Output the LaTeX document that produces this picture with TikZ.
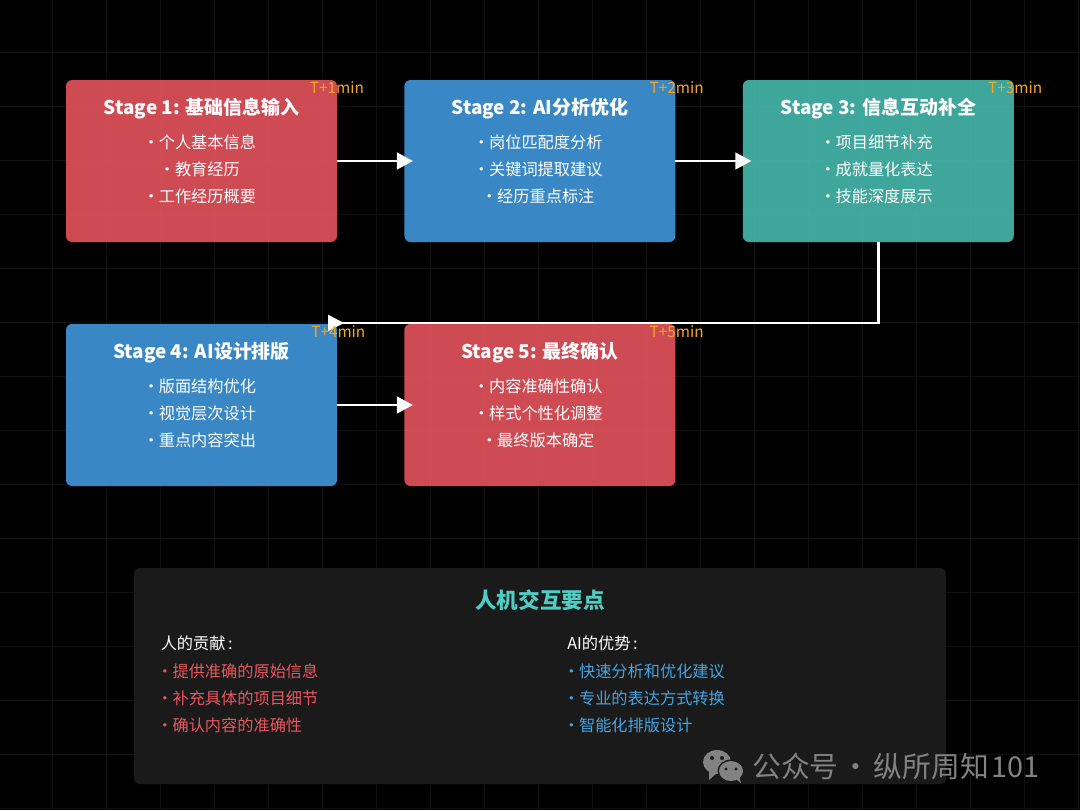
\documentclass[tikz,border=0pt]{standalone}
\usepackage{fontspec}
\setmainfont{Noto Sans CJK SC}
\usetikzlibrary{positioning, arrows.meta, shapes.geometric}
\definecolor{pagecol}{RGB}{0, 0, 0}
\definecolor{gridcol}{RGB}{17, 17, 17}
\definecolor{redcol}{RGB}{230, 84, 94}
\definecolor{bluecol}{RGB}{64, 150, 218}
\definecolor{tealcol}{RGB}{70, 185, 174}
\definecolor{panelcol}{RGB}{26, 26, 26}
\definecolor{timecol}{RGB}{245, 166, 35}
\definecolor{headcol}{RGB}{78, 205, 196}
\definecolor{humancol}{RGB}{236, 84, 94}
\definecolor{aicol}{RGB}{69, 163, 226}
\definecolor{markcol}{RGB}{130, 130, 130}
\newcommand{\bul}{•\kern-0.3pt}
\tikzset{
  stagebox/.style={rounded corners=4.5pt, minimum width=203.2pt, minimum height=121.5pt,
                   fill opacity=0.9, inner sep=0pt, outer sep=0pt},
  stagehead/.style={text=white, inner sep=0pt, font=\fontsize{14.2}{16}\selectfont\bfseries},
  stagelist/.style={text=white, align=center, inner sep=0pt, xshift=-1.5pt,
                    font=\fontsize{12.15}{20.25}\selectfont},
  timelabel/.style={text=timecol, inner sep=0pt, font=\fontsize{11.5}{12}\selectfont},
  flow/.style={-{Triangle[length=12pt, width=12.5pt]}, white, line width=1.9pt, shorten >=-6.4pt},
  panellist/.style={align=left, inner sep=0pt, anchor=north west,
                    font=\fontsize{12.15}{20.25}\selectfont},
}

\begin{document}
\begin{tikzpicture}[x=0.75pt, y=-0.75pt]
  \useasboundingbox (0,0) rectangle (1080,810);
  \fill[pagecol] (0,0) rectangle (1080,810);
  \foreach \gx in {0,...,19} {
    \draw[gridcol, line width=0.75pt] ({52.5+54*\gx},0) -- ({52.5+54*\gx},810);
  }
  \foreach \gy in {0,...,14} {
    \draw[gridcol, line width=0.75pt] (0,{52.5+54*\gy}) -- (1080,{52.5+54*\gy});
  }

  % first row
  \node[stagebox, fill=redcol] (stageone) at (201.5,161) {};
  \node[stagebox, fill=bluecol, right=50.6pt of stageone] (stagetwo) {};
  \node[stagebox, fill=tealcol, right=50.6pt of stagetwo] (stagethree) {};
  % second row
  \node[stagebox, fill=bluecol, below=61.5pt of stageone] (stagefour) {};
  \node[stagebox, fill=redcol, right=50.6pt of stagefour] (stagefive) {};

  \coordinate (turnend) at (328,323);
  \draw[flow] (stageone) -- (stagetwo);
  \draw[flow] (stagetwo) -- (stagethree);
  \draw[flow, shorten >=0pt, -{Triangle[reversed, length=12pt, width=12pt]}] (stagethree.south) |- (turnend);
  \draw[flow] (stagefour) -- (stagefive);

  \node[stagehead, below=21.75pt of stageone.north, anchor=center] (headone) {Stage 1: 基础信息输入};
  \node[stagelist, below=66.75pt of stageone.north, anchor=center] (listone) {\bul 个人基本信息\\\bul 教育经历\\\bul 工作经历概要};
  \node[stagehead, below=21.75pt of stagetwo.north, anchor=center] (headtwo) {Stage 2: AI分析优化};
  \node[stagelist, below=66.75pt of stagetwo.north, anchor=center] (listtwo) {\bul 岗位匹配度分析\\\bul 关键词提取建议\\\bul 经历重点标注};
  \node[stagehead, below=21.75pt of stagethree.north, anchor=center] (headthree) {Stage 3: 信息互动补全};
  \node[stagelist, below=66.75pt of stagethree.north, anchor=center] (listthree) {\bul 项目细节补充\\\bul 成就量化表达\\\bul 技能深度展示};
  \node[stagehead, below=21.75pt of stagefour.north, anchor=center] (headfour) {Stage 4: AI设计排版};
  \node[stagelist, below=66.75pt of stagefour.north, anchor=center] (listfour) {\bul 版面结构优化\\\bul 视觉层次设计\\\bul 重点内容突出};
  \node[stagehead, below=21.75pt of stagefive.north, anchor=center] (headfive) {Stage 5: 最终确认};
  \node[stagelist, below=66.75pt of stagefive.north, anchor=center] (listfive) {\bul 内容准确性确认\\\bul 样式个性化调整\\\bul 最终版本确定};

  \node[timelabel, below=6pt of stageone.north east, anchor=center] (timeone) {T+1min};
  \node[timelabel, below=6pt of stagetwo.north east, anchor=center, xshift=1pt] (timetwo) {T+2min};
  \node[timelabel, below=6pt of stagethree.north east, anchor=center, xshift=1pt] (timethree) {T+3min};
  \node[timelabel, below=6pt of stagefour.north east, anchor=center, xshift=1pt] (timefour) {T+4min};
  \node[timelabel, below=6pt of stagefive.north east, anchor=center, xshift=1pt] (timefive) {T+5min};

  % key points
  \node[rounded corners=4.5pt, fill=panelcol, minimum width=609pt, minimum height=162pt,
        inner sep=0pt] (panel) at (540,676) {};
  \node[text=headcol, inner sep=0pt, font=\fontsize{16.2}{18}\selectfont\bfseries,
        below=24pt of panel.north, anchor=center] (panelhead) {人机交互要点};
  \node[panellist, text=white] (humanhead) at (160.5,636) {人的贡献\kern2pt:};
  \node[panellist, text=humancol, below=8.75pt of humanhead.south west, anchor=north west, xshift=-3pt] (humanlist)
    {\bul 提供准确的原始信息\\\bul 补充具体的项目细节\\\bul 确认内容的准确性};
  \node[panellist, text=white] (aihead) at (567,636) {AI的优势\kern2pt:};
  \node[panellist, text=aicol, below=8.75pt of aihead.south west, anchor=north west, xshift=-3pt] (ailist)
    {\bul 快速分析和优化建议\\\bul 专业的表达方式转换\\\bul 智能化排版设计};

  % watermark
  \fill[markcol] (717,762) ellipse [x radius=14, y radius=12];
  \fill[markcol] (709,771) -- (709,780) -- (717,773) -- cycle;
  \fill[panelcol] (731,771) ellipse [x radius=13.5, y radius=11.5];
  \fill[markcol] (731,771) ellipse [x radius=12, y radius=10];
  \fill[markcol] (736,779) -- (741,783) -- (739,776) -- cycle;
  \fill[panelcol] (712,758) circle [radius=2] (722,758) circle [radius=2]
                  (726,769) circle [radius=1.7] (736,769) circle [radius=1.7];
  \node[text=markcol, inner sep=0pt, anchor=west, font=\fontsize{21.6}{24}\selectfont] (marktext) at (752,767)
    {公众号\kern-2.5pt{} · \kern-2.5pt{}纵所周知\kern2pt{}101};
\end{tikzpicture}
\end{document}
